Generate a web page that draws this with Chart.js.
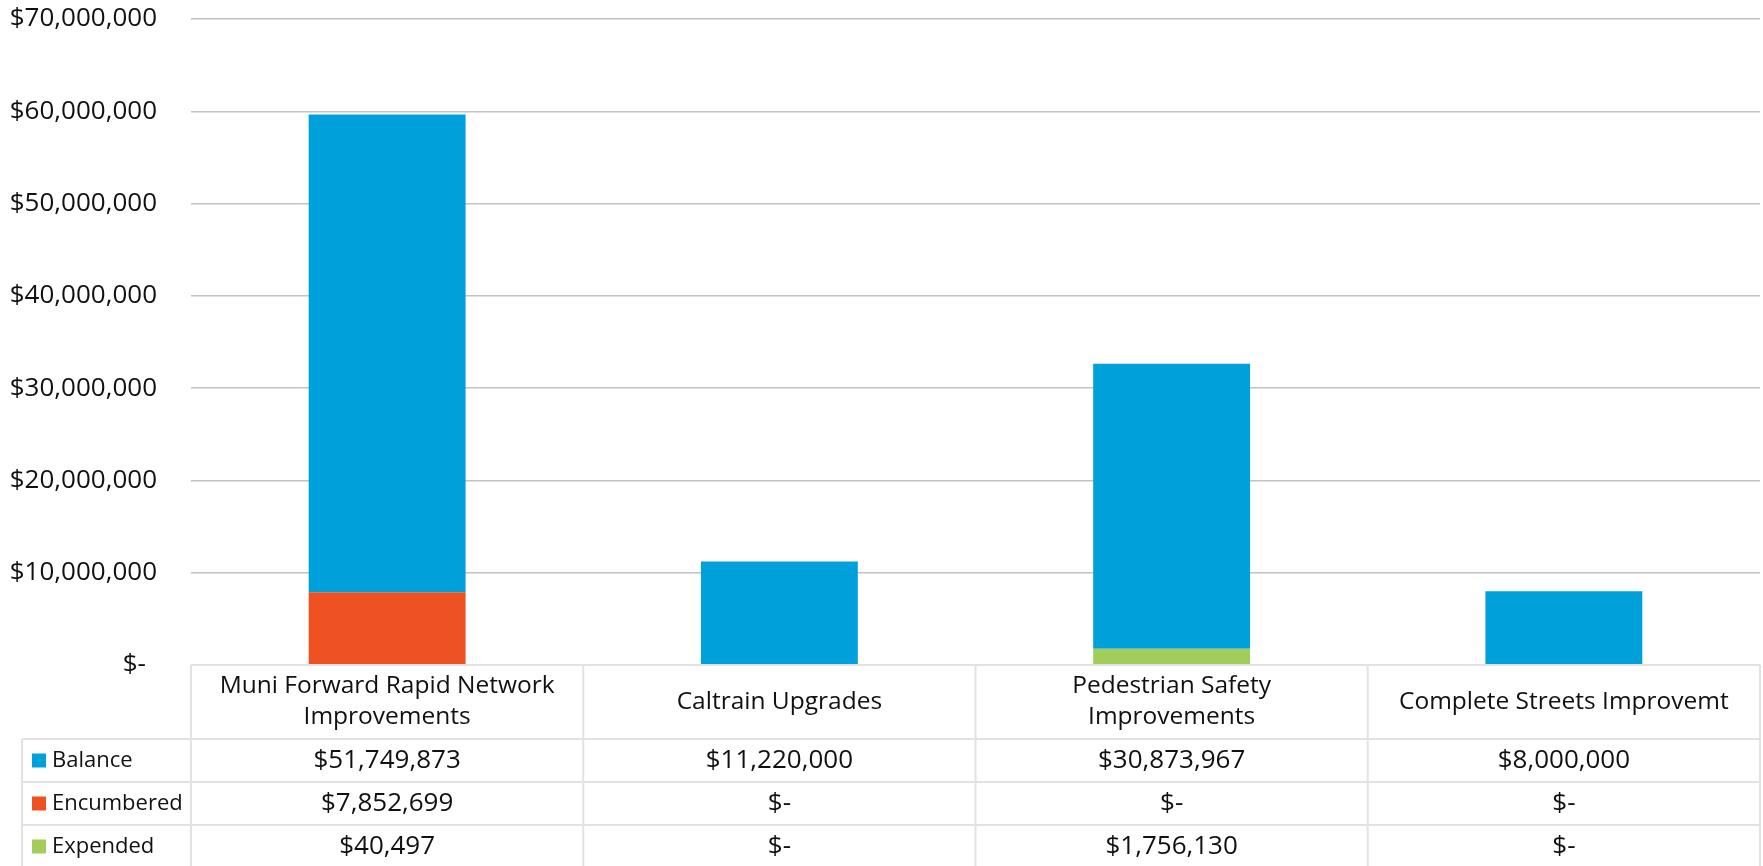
<!DOCTYPE html>
<html>
<head>
<meta charset="utf-8">
<script src="https://cdn.jsdelivr.net/npm/chart.js@4"></script>
<style>
  html, body { margin: 0; padding: 0; background: #fff; }
  #wrap { width: 1763px; height: 866px; }
</style>
</head>
<body>
<div id="wrap"><canvas id="funds"></canvas></div>
<script>
const categories = [
  ['Muni Forward Rapid Network', 'Improvements'],
  'Caltrain Upgrades',
  ['Pedestrian Safety', 'Improvements'],
  'Complete Streets Improvemt'
];
const balance = [51749873, 11220000, 30873967, 8000000];
const encumbered = [7852699, 0, 0, 0];
const expended = [40497, 0, 1756130, 0];
const yTicks = [0, 10000000, 20000000, 30000000, 40000000, 50000000, 60000000, 70000000];

const FONT = '"Open Sans", "Noto Sans", sans-serif';
const money = v => v === 0 ? '$-' : '$' + v.toLocaleString('en-US');

// table rows, top to bottom as in the reference
const rows = [
  { label: 'Balance', data: balance, color: '#00A1DB' },
  { label: 'Encumbered', data: encumbered, color: '#EE5222' },
  { label: 'Expended', data: expended, color: '#A2CD5A' }
];

const dataTable = {
  id: 'dataTable',
  afterDraw(chart) {
    const ctx = chart.ctx;
    const a = chart.chartArea;
    const x = chart.scales.x;
    const colW = a.width / categories.length;
    const headH = 74, rowH = 43;
    const legLeft = 22;
    const top = a.bottom;
    const headBottom = top + headH;
    const bottom = headBottom + rows.length * rowH;

    ctx.save();
    ctx.strokeStyle = '#e2e2e2';
    ctx.lineWidth = 2;
    ctx.beginPath();
    ctx.moveTo(a.left, top); ctx.lineTo(a.right, top);
    for (let r = 0; r <= rows.length; r++) {
      const y = headBottom + r * rowH;
      ctx.moveTo(legLeft, y); ctx.lineTo(a.right, y);
    }
    for (let c = 0; c <= categories.length; c++) {
      const xx = a.left + c * colW;
      ctx.moveTo(xx, top); ctx.lineTo(xx, bottom);
    }
    ctx.moveTo(legLeft, headBottom); ctx.lineTo(legLeft, bottom);
    ctx.stroke();

    ctx.fillStyle = '#111';
    ctx.textAlign = 'center';
    ctx.textBaseline = 'middle';
    ctx.font = '24.5px ' + FONT;
    categories.forEach((cat, i) => {
      const cx = x.getPixelForValue(i);
      const lines = Array.isArray(cat) ? cat : [cat];
      const lh = 31;
      const y0 = top + headH / 2 - (lines.length - 1) * lh / 2;
      lines.forEach((ln, k) => ctx.fillText(ln, cx, y0 + k * lh));
    });

    rows.forEach((row, r) => {
      const cy = headBottom + r * rowH + rowH / 2;
      ctx.fillStyle = row.color;
      ctx.fillRect(32, cy - 7, 14, 14);
      ctx.fillStyle = '#111';
      ctx.textAlign = 'left';
      ctx.font = '22px ' + FONT;
      ctx.fillText(row.label, 52, cy);
      ctx.textAlign = 'center';
      ctx.font = '26px ' + FONT;
      row.data.forEach((v, i) => ctx.fillText(money(v), x.getPixelForValue(i), cy));
    });
    ctx.restore();
  }
};

new Chart(document.getElementById('funds'), {
  type: 'bar',
  data: {
    labels: categories,
    datasets: [{
      label: 'Expended',
      data: expended,
      backgroundColor: '#A2CD5A'
    }, {
      label: 'Encumbered',
      data: encumbered,
      backgroundColor: '#EE5222'
    }, {
      label: 'Balance',
      data: balance,
      backgroundColor: '#00A1DB'
    }]
  },
  options: {
    responsive: true,
    maintainAspectRatio: false,
    animation: false,
    layout: { padding: { top: 19, right: 3, bottom: 201, left: 0 } },
    datasets: { bar: { categoryPercentage: 0.4, barPercentage: 1 } },
    plugins: {
      legend: { display: false },
      tooltip: { enabled: false }
    },
    scales: {
      x: {
        stacked: true,
        display: false
      },
      y: {
        stacked: true,
        min: 0,
        max: 70000000,
        afterFit(scale) {
          scale.width = 191;
          scale.paddingTop = 0;
          scale.paddingBottom = 0;
        },
        afterBuildTicks(scale) { scale.ticks = yTicks.map(v => ({ value: v })); },
        border: { display: false },
        grid: { color: '#c2c2c2', lineWidth: 1.5, drawTicks: false },
        ticks: {
          padding: 34,
          color: '#111',
          font: { family: FONT, size: 26 },
          callback: v => v === 0 ? '$- \u2009' : money(v)
        }
      }
    }
  },
  plugins: [dataTable]
});
</script>
</body>
</html>
